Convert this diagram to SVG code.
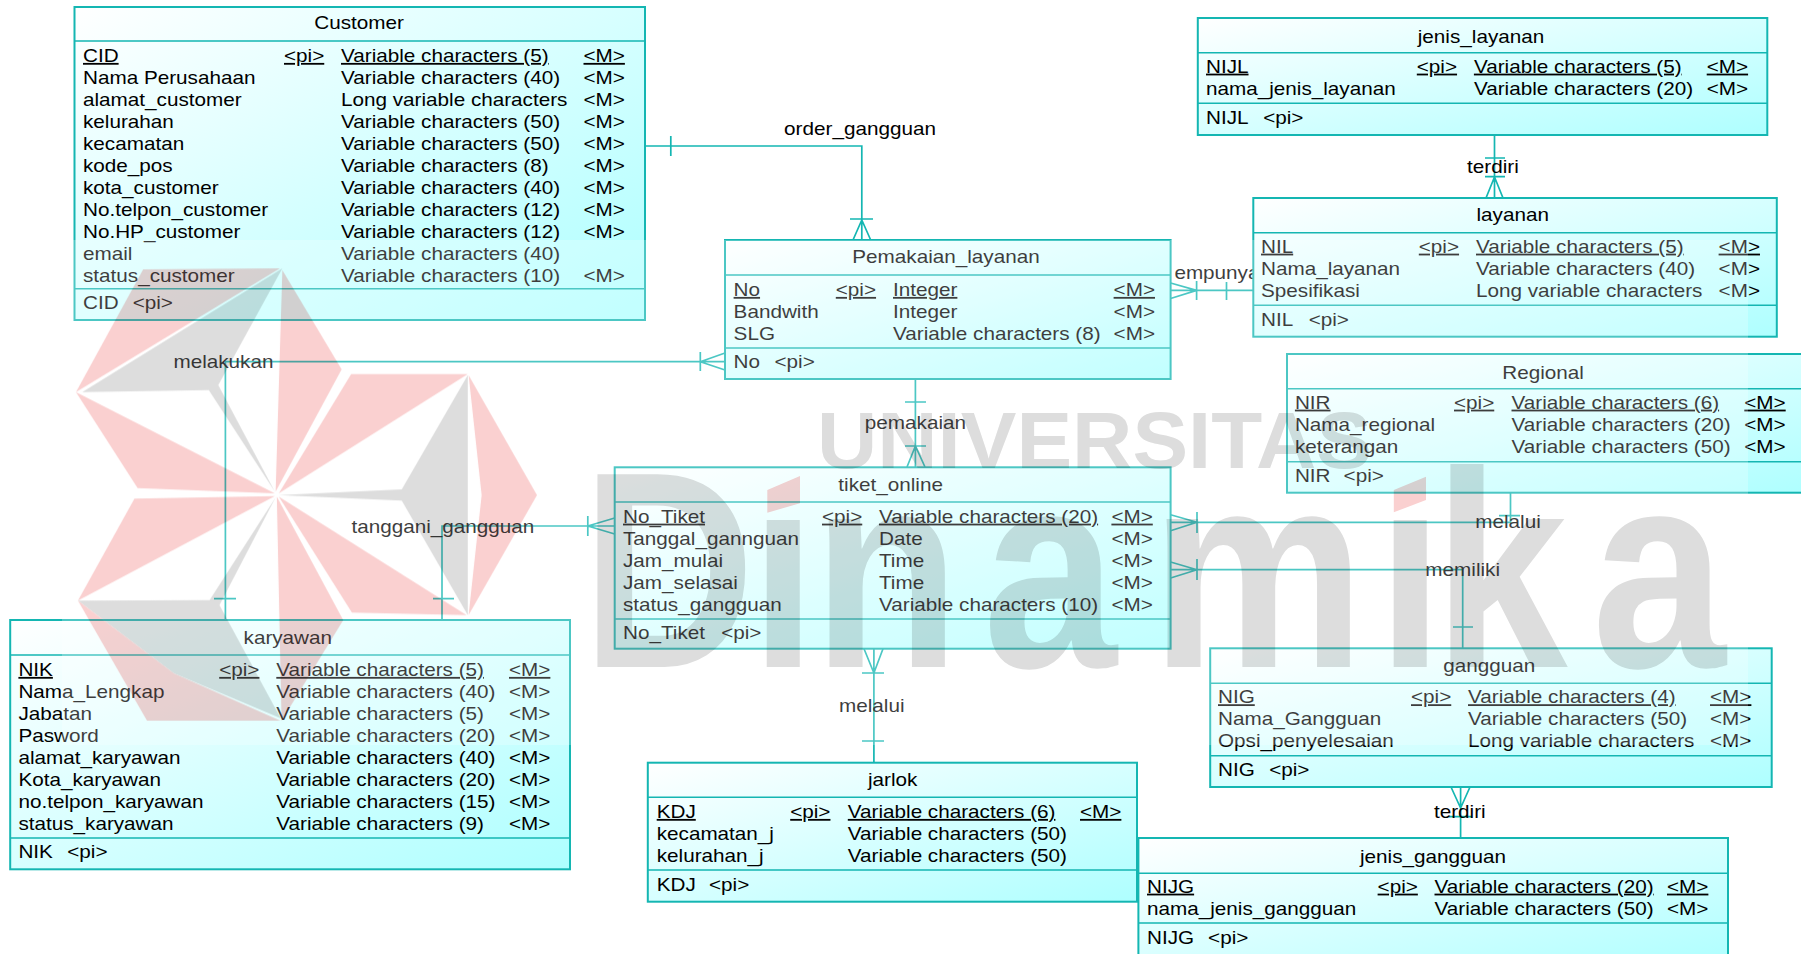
<svg xmlns="http://www.w3.org/2000/svg" width="1801" height="954" viewBox="0 0 1801 954">
<style>
text{font-family:"Liberation Sans",Arial,sans-serif;font-size:18px;fill:#000}
.m{text-anchor:middle}
.u{text-decoration:underline}
.box{fill:url(#g);stroke:#14b6b2;stroke-width:2}
.sep{fill:none;stroke:#14b6b2;stroke-width:1.6}
.c{fill:none;stroke:#14b6b2;stroke-width:1.7}
.wm{mix-blend-mode:multiply}
.p{fill:#fad0d0}
.y{fill:#dddddd}
.wt{font-weight:bold;fill:#dddddd}
</style>
<defs>
<linearGradient id="g" x1="0" y1="0" x2="1" y2="1"><stop offset="0" stop-color="#ffffff"/><stop offset="1" stop-color="#aeffff"/></linearGradient>
<mask id="dots" maskUnits="userSpaceOnUse" x="0" y="0" width="1801" height="954"><rect width="1801" height="954" fill="#fff"/><rect x="755" y="440" width="60" height="80" fill="#000"/><rect x="1382" y="440" width="60" height="80" fill="#000"/></mask>
</defs>
<rect width="1801" height="954" fill="#fff"/>
<g id="connectors">
<path class="c" d="M645 146H861.8V240M670.8 136V156M850 219H873M861.8 220L853 240M861.8 220L870.7 240"/>
<text class="m" transform="translate(860,135) scale(1.15,1)">order_gangguan</text>
<path class="c" d="M1170.6 290.4H1253M1196.6 290.4L1170.6 283M1196.6 290.4L1170.6 298.5M1196.6 281V300M1226.5 282V300"/>
<text transform="translate(1174.4,279) scale(1.15,1)">empunya</text>
<path class="c" d="M725 361.7H225.4V620M700.3 352V371M700.3 361.7L725 353M700.3 361.7L725 370M214 598.7H236"/>
<text class="m" transform="translate(223.4,368) scale(1.15,1)">melakukan</text>
<path class="c" d="M915.4 379V467M905 402H926M905 446H926M915.4 446L907 467M915.4 446L925 467"/>
<text class="m" transform="translate(915.4,429) scale(1.15,1)">pemakaian</text>
<path class="c" d="M614.7 526H442V620M587.8 516V536M587.8 526L614.7 518M587.8 526L614.7 534M433 598.7H454"/>
<text class="m" transform="translate(442.8,532.7) scale(1.15,1)">tanggani_gangguan</text>
<path class="c" d="M1170.6 522.3H1510.5V492.7M1197 512V533M1197 522.3L1170.6 514.7M1197 522.3L1170.6 530.7M1499 515.7H1520"/>
<text class="m" transform="translate(1508,528) scale(1.15,1)">melalui</text>
<path class="c" d="M1170.6 569.7H1462.7V648.3M1197 559V580M1197 569.7L1170.6 562M1197 569.7L1170.6 578M1453 627H1473"/>
<text class="m" transform="translate(1462.7,575.7) scale(1.15,1)">memiliki</text>
<path class="c" d="M1460.6 787V838M1460.6 808L1451 787M1460.6 808L1470 787M1449 816.7H1472"/>
<text class="m" transform="translate(1459.8,817.7) scale(1.15,1)">terdiri</text>
<path class="c" d="M1494.5 135V198M1485 158H1505M1485 176.7H1505M1494.5 177L1486 198M1494.5 177L1503 198"/>
<text class="m" transform="translate(1492.9,173) scale(1.15,1)">terdiri</text>
<path class="c" d="M873.9 648.7V762.7M873.9 673L864 648.7M873.9 673L883 648.7M862 673H884M862 741H884"/>
<text class="m" transform="translate(871.8,711.7) scale(1.15,1)">melalui</text>
</g>
<g id="customer">
<rect class="box" x="74.5" y="7" width="570.5" height="313"/>
<path class="sep" d="M74.5 41H645M74.5 288.7H645"/>
<text class="m" transform="translate(359,29) scale(1.15,1)">Customer</text>
<g transform="translate(83,0) scale(1.15,1)"><text y="62" class="u">CID</text><text y="84">Nama Perusahaan</text><text y="106">alamat_customer</text><text y="128">kelurahan</text><text y="150">kecamatan</text><text y="172">kode_pos</text><text y="194">kota_customer</text><text y="216">No.telpon_customer</text><text y="238">No.HP_customer</text><text y="260">email</text><text y="282">status_customer</text><text y="309">CID</text></g>
<g transform="translate(284,0) scale(1.15,1)"><text y="62" class="u">&lt;pi&gt;</text></g>
<g transform="translate(132.7,0) scale(1.15,1)"><text y="309">&lt;pi&gt;</text></g>
<g transform="translate(341,0) scale(1.15,1)"><text y="62" class="u">Variable characters (5)</text><text y="84">Variable characters (40)</text><text y="106">Long variable characters</text><text y="128">Variable characters (50)</text><text y="150">Variable characters (50)</text><text y="172">Variable characters (8)</text><text y="194">Variable characters (40)</text><text y="216">Variable characters (12)</text><text y="238">Variable characters (12)</text><text y="260">Variable characters (40)</text><text y="282">Variable characters (10)</text></g>
<g transform="translate(583.5,0) scale(1.15,1)"><text y="62" class="u">&lt;M&gt;</text><text y="84">&lt;M&gt;</text><text y="106">&lt;M&gt;</text><text y="128">&lt;M&gt;</text><text y="150">&lt;M&gt;</text><text y="172">&lt;M&gt;</text><text y="194">&lt;M&gt;</text><text y="216">&lt;M&gt;</text><text y="238">&lt;M&gt;</text><text y="282">&lt;M&gt;</text></g>
</g>
<g id="pemakaian_layanan">
<rect class="box" x="725" y="240" width="445.6" height="139"/>
<path class="sep" d="M725 275H1170.6M725 348H1170.6"/>
<text class="m" transform="translate(946,263) scale(1.15,1)">Pemakaian_layanan</text>
<g transform="translate(733.6,0) scale(1.15,1)"><text y="296" class="u">No</text><text y="318">Bandwith</text><text y="340">SLG</text><text y="368.5">No</text></g>
<g transform="translate(835.8,0) scale(1.15,1)"><text y="296" class="u">&lt;pi&gt;</text></g>
<g transform="translate(774.5,0) scale(1.15,1)"><text y="368.5">&lt;pi&gt;</text></g>
<g transform="translate(893,0) scale(1.15,1)"><text y="296" class="u">Integer</text><text y="318">Integer</text><text y="340">Variable characters (8)</text></g>
<g transform="translate(1113.6,0) scale(1.15,1)"><text y="296" class="u">&lt;M&gt;</text><text y="318">&lt;M&gt;</text><text y="340">&lt;M&gt;</text></g>
</g>
<g id="tiket_online">
<rect class="box" x="614.7" y="467.3" width="555.9" height="181.4"/>
<path class="sep" d="M614.7 502H1170.6M614.7 619H1170.6"/>
<text class="m" transform="translate(890.6,491) scale(1.15,1)">tiket_online</text>
<g transform="translate(623,0) scale(1.15,1)"><text y="522.7" class="u">No_Tiket</text><text y="544.7">Tanggal_gannguan</text><text y="566.7">Jam_mulai</text><text y="588.7">Jam_selasai</text><text y="610.7">status_gangguan</text><text y="639">No_Tiket</text></g>
<g transform="translate(822,0) scale(1.15,1)"><text y="522.7" class="u">&lt;pi&gt;</text></g>
<g transform="translate(721.2,0) scale(1.15,1)"><text y="639">&lt;pi&gt;</text></g>
<g transform="translate(879,0) scale(1.15,1)"><text y="522.7" class="u">Variable characters (20)</text><text y="544.7">Date</text><text y="566.7">Time</text><text y="588.7">Time</text><text y="610.7">Variable characters (10)</text></g>
<g transform="translate(1111.4,0) scale(1.15,1)"><text y="522.7" class="u">&lt;M&gt;</text><text y="544.7">&lt;M&gt;</text><text y="566.7">&lt;M&gt;</text><text y="588.7">&lt;M&gt;</text><text y="610.7">&lt;M&gt;</text></g>
</g>
<g id="jenis_layanan">
<rect class="box" x="1197.8" y="18" width="569.5" height="117"/>
<path class="sep" d="M1197.8 52.7H1767.3M1197.8 103.3H1767.3"/>
<text class="m" transform="translate(1481,42.5) scale(1.15,1)">jenis_layanan</text>
<g transform="translate(1206,0) scale(1.15,1)"><text y="72.7" class="u">NIJL</text><text y="95">nama_jenis_layanan</text><text y="124">NIJL</text></g>
<g transform="translate(1416.8,0) scale(1.15,1)"><text y="72.7" class="u">&lt;pi&gt;</text></g>
<g transform="translate(1263.2,0) scale(1.15,1)"><text y="124">&lt;pi&gt;</text></g>
<g transform="translate(1473.9,0) scale(1.15,1)"><text y="72.7" class="u">Variable characters (5)</text><text y="95">Variable characters (20)</text></g>
<g transform="translate(1706.7,0) scale(1.15,1)"><text y="72.7" class="u">&lt;M&gt;</text><text y="95">&lt;M&gt;</text></g>
</g>
<g id="layanan">
<rect class="box" x="1253.3" y="198" width="523.5" height="138.7"/>
<path class="sep" d="M1253.3 232.7H1776.8M1253.3 305.3H1776.8"/>
<text class="m" transform="translate(1512.7,220.5) scale(1.15,1)">layanan</text>
<g transform="translate(1261,0) scale(1.15,1)"><text y="252.7" class="u">NIL</text><text y="274.7">Nama_layanan</text><text y="296.7">Spesifikasi</text><text y="326">NIL</text></g>
<g transform="translate(1418.8,0) scale(1.15,1)"><text y="252.7" class="u">&lt;pi&gt;</text></g>
<g transform="translate(1308.7,0) scale(1.15,1)"><text y="326">&lt;pi&gt;</text></g>
<g transform="translate(1476,0) scale(1.15,1)"><text y="252.7" class="u">Variable characters (5)</text><text y="274.7">Variable characters (40)</text><text y="296.7">Long variable characters</text></g>
<g transform="translate(1718.6,0) scale(1.15,1)"><text y="252.7" class="u">&lt;M&gt;</text><text y="274.7">&lt;M&gt;</text><text y="296.7">&lt;M&gt;</text></g>
</g>
<g id="regional">
<rect class="box" x="1287" y="354" width="525" height="138.7"/>
<path class="sep" d="M1287 388.7H1812M1287 461.7H1812"/>
<text class="m" transform="translate(1543,378.5) scale(1.15,1)">Regional</text>
<g transform="translate(1294.9,0) scale(1.15,1)"><text y="408.7" class="u">NIR</text><text y="430.7">Nama_regional</text><text y="452.7">keterangan</text><text y="481.7">NIR</text></g>
<g transform="translate(1454,0) scale(1.15,1)"><text y="408.7" class="u">&lt;pi&gt;</text></g>
<g transform="translate(1343.6,0) scale(1.15,1)"><text y="481.7">&lt;pi&gt;</text></g>
<g transform="translate(1511.5,0) scale(1.15,1)"><text y="408.7" class="u">Variable characters (6)</text><text y="430.7">Variable characters (20)</text><text y="452.7">Variable characters (50)</text></g>
<g transform="translate(1744.3,0) scale(1.15,1)"><text y="408.7" class="u">&lt;M&gt;</text><text y="430.7">&lt;M&gt;</text><text y="452.7">&lt;M&gt;</text></g>
</g>
<g id="gangguan">
<rect class="box" x="1210.2" y="648.3" width="561.5" height="138.7"/>
<path class="sep" d="M1210.2 683.3H1771.7M1210.2 755.7H1771.7"/>
<text class="m" transform="translate(1489.3,671.5) scale(1.15,1)">gangguan</text>
<g transform="translate(1218,0) scale(1.15,1)"><text y="703.3" class="u">NIG</text><text y="725.3">Nama_Gangguan</text><text y="747.3">Opsi_penyelesaian</text><text y="776.3">NIG</text></g>
<g transform="translate(1411,0) scale(1.15,1)"><text y="703.3" class="u">&lt;pi&gt;</text></g>
<g transform="translate(1269.2,0) scale(1.15,1)"><text y="776.3">&lt;pi&gt;</text></g>
<g transform="translate(1468,0) scale(1.15,1)"><text y="703.3" class="u">Variable characters (4)</text><text y="725.3">Variable characters (50)</text><text y="747.3">Long variable characters</text></g>
<g transform="translate(1710,0) scale(1.15,1)"><text y="703.3" class="u">&lt;M&gt;</text><text y="725.3">&lt;M&gt;</text><text y="747.3">&lt;M&gt;</text></g>
</g>
<g id="jarlok">
<rect class="box" x="647.8" y="762.7" width="489.2" height="139"/>
<path class="sep" d="M647.8 797.3H1137M647.8 870H1137"/>
<text class="m" transform="translate(892.7,785.5) scale(1.15,1)">jarlok</text>
<g transform="translate(656.7,0) scale(1.15,1)"><text y="818" class="u">KDJ</text><text y="840">kecamatan_j</text><text y="862">kelurahan_j</text><text y="891">KDJ</text></g>
<g transform="translate(790.2,0) scale(1.15,1)"><text y="818" class="u">&lt;pi&gt;</text></g>
<g transform="translate(709,0) scale(1.15,1)"><text y="891">&lt;pi&gt;</text></g>
<g transform="translate(847.8,0) scale(1.15,1)"><text y="818" class="u">Variable characters (6)</text><text y="840">Variable characters (50)</text><text y="862">Variable characters (50)</text></g>
<g transform="translate(1080,0) scale(1.15,1)"><text y="818" class="u">&lt;M&gt;</text></g>
</g>
<g id="jenis_gangguan">
<rect class="box" x="1138.4" y="838" width="589.6" height="130"/>
<path class="sep" d="M1138.4 873.3H1728M1138.4 923H1728"/>
<text class="m" transform="translate(1433,863) scale(1.15,1)">jenis_gangguan</text>
<g transform="translate(1147,0) scale(1.15,1)"><text y="892.7" class="u">NIJG</text><text y="915">nama_jenis_gangguan</text><text y="944">NIJG</text></g>
<g transform="translate(1377.6,0) scale(1.15,1)"><text y="892.7" class="u">&lt;pi&gt;</text></g>
<g transform="translate(1208.1,0) scale(1.15,1)"><text y="944">&lt;pi&gt;</text></g>
<g transform="translate(1434.5,0) scale(1.15,1)"><text y="892.7" class="u">Variable characters (20)</text><text y="915">Variable characters (50)</text></g>
<g transform="translate(1667,0) scale(1.15,1)"><text y="892.7" class="u">&lt;M&gt;</text><text y="915">&lt;M&gt;</text></g>
</g>
<g id="karyawan">
<rect class="box" x="10.2" y="620" width="559.8" height="249.3"/>
<path class="sep" d="M10.2 655H570M10.2 838H570"/>
<text class="m" transform="translate(287.8,644) scale(1.15,1)">karyawan</text>
<g transform="translate(18.4,0) scale(1.15,1)"><text y="676" class="u">NIK</text><text y="698">Nama_Lengkap</text><text y="720">Jabatan</text><text y="742">Pasword</text><text y="764">alamat_karyawan</text><text y="786">Kota_karyawan</text><text y="808">no.telpon_karyawan</text><text y="830">status_karyawan</text><text y="858">NIK</text></g>
<g transform="translate(219.2,0) scale(1.15,1)"><text y="676" class="u">&lt;pi&gt;</text></g>
<g transform="translate(67.3,0) scale(1.15,1)"><text y="858">&lt;pi&gt;</text></g>
<g transform="translate(276.3,0) scale(1.15,1)"><text y="676" class="u">Variable characters (5)</text><text y="698">Variable characters (40)</text><text y="720">Variable characters (5)</text><text y="742">Variable characters (20)</text><text y="764">Variable characters (40)</text><text y="786">Variable characters (20)</text><text y="808">Variable characters (15)</text><text y="830">Variable characters (9)</text></g>
<g transform="translate(509,0) scale(1.15,1)"><text y="676" class="u">&lt;M&gt;</text><text y="698">&lt;M&gt;</text><text y="720">&lt;M&gt;</text><text y="742">&lt;M&gt;</text><text y="764">&lt;M&gt;</text><text y="786">&lt;M&gt;</text><text y="808">&lt;M&gt;</text><text y="830">&lt;M&gt;</text></g>
</g>
<g id="watermark">
<rect x="62" y="240" width="1686" height="505" fill="#fff" opacity=".24"/>
<g class="wm">
<g transform="translate(0,260) scale(.3954,.3333)">
<polygon class="p" points="192,396 362,28 708,25"/>
<polygon class="y" points="714,25 208,396 528,390 695,695 552,375"/>
<polygon class="p" points="714,30 864,328 697,695"/>
<polygon class="p" points="192,396 348,684 695,700"/>
<polygon class="p" points="340,716 695,708 197,1022"/>
<polygon class="y" points="197,1022 530,1020 697,712 555,1035 710,1375 440,1240"/>
<polygon class="p" points="197,1022 372,1383 710,1383 440,1240"/>
<polygon class="p" points="700,710 868,1080 712,1383"/>
<polygon class="p" points="888,342 1183,342 705,700"/>
<polygon class="y" points="1183,345 1016,688 705,705 1016,722 1183,1065"/>
<polygon class="p" points="1185,345 1358,705 1185,1065 1218,705"/>
<polygon class="p" points="705,710 1180,1065 890,1058"/>
</g>
<text class="wt" x="817" y="468" style="font-size:79px" textLength="555" lengthAdjust="spacingAndGlyphs">UNIVERSITAS</text>
<g mask="url(#dots)"><g transform="translate(0,667) scale(.86,1)"><text class="wt" x="676 872 945 1143 1338 1601 1667 1851" y="0" style="font-size:280px">Dinamika</text></g></g>
<polygon class="p" points="767.3,490 800,476 800,503.3 767.3,512.7"/>
<polygon class="p" points="1393.8,490 1426,476.7 1426,500 1393.8,512.3"/>
</g>
</g>
</svg>
